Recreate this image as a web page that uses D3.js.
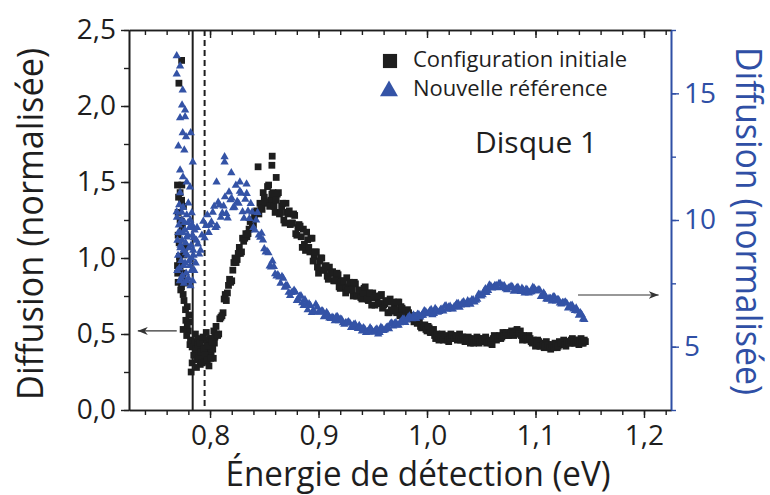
<!DOCTYPE html>
<html>
<head>
<meta charset="utf-8">
<script src="https://cdn.jsdelivr.net/npm/d3@7"></script>
<style>
  body { margin: 0; background: #fff; }
  svg { display: block; font-family: "Open Sans", sans-serif; }
</style>
</head>
<body>
<svg id="chart" width="770" height="495"></svg>
<script>
// [énergie (eV), diffusion normalisée] - axe de gauche
const configInitiale = [
  [0.7738,2.30],[0.7713,2.15],[0.7700,1.48],[0.7740,1.48],[0.7724,1.43],[0.7738,1.38],[0.7755,1.34],
  [0.7706,1.30],[0.7737,1.24],[0.7724,1.25],[0.7706,1.15],[0.7768,1.07],[0.7718,1.01],[0.7720,0.97],
  [0.7702,0.90],[0.7724,0.94],[0.7752,0.90],[0.7706,0.84],[0.7774,0.835],[0.7737,0.81],[0.7752,0.76],
  [0.7710,1.40],[0.7745,1.20],[0.7715,1.10],[0.7760,1.02],[0.7700,0.95],[0.7745,0.87],[0.7730,0.79],
  [0.7760,0.72],[0.7790,0.68],[0.7810,0.58],[0.7800,0.52],[0.7815,0.43],
  [0.7774,0.66],[0.7805,0.625],[0.7777,0.59],[0.7790,0.56],[0.7752,0.53],[0.7785,0.49],[0.7820,0.46],
  [0.7835,0.415],[0.7850,0.36],[0.7835,0.31],[0.7826,0.25],
  [0.7860,0.45],[0.7870,0.40],[0.7880,0.33],[0.7890,0.43],[0.7900,0.37],[0.7910,0.30],[0.7920,0.41],
  [0.7930,0.35],[0.7940,0.46],[0.7950,0.32],[0.7960,0.39],[0.7970,0.44],[0.7980,0.36],[0.7990,0.29],
  [0.8000,0.42],[0.8010,0.38],[0.8020,0.47],[0.8030,0.34],[0.8040,0.44],
  [0.7865,0.50],[0.7875,0.28],[0.7885,0.47],[0.7895,0.34],[0.7905,0.44],[0.7915,0.38],[0.7925,0.31],
  [0.7935,0.48],[0.7945,0.40],[0.7955,0.36],[0.7965,0.51],[0.7975,0.33],[0.7985,0.42],[0.7995,0.47],
  [0.8005,0.34],[0.8015,0.45],[0.8025,0.40],[0.8035,0.52],[0.8045,0.48],[0.8055,0.55],
  [0.806,0.50],[0.808,0.50],[0.810,0.61],[0.812,0.64],[0.814,0.76],[0.816,0.77],[0.818,0.86],
  [0.820,0.85],[0.822,0.97],[0.824,0.97],[0.826,1.03],[0.828,1.03],[0.830,1.13],[0.832,1.13],
  [0.834,1.14],[0.836,1.19],[0.838,1.25],[0.840,1.22],[0.842,1.30],[0.844,1.30],[0.846,1.36],
  [0.848,1.32],[0.850,1.40],[0.852,1.36],[0.854,1.48],[0.856,1.38],[0.858,1.43],[0.860,1.30],
  [0.862,1.42],[0.864,1.29],[0.866,1.34],[0.868,1.25],[0.870,1.36],[0.872,1.29],[0.874,1.22],
  [0.876,1.23],[0.878,1.28],[0.880,1.15],[0.882,1.22],[0.884,1.14],[0.886,1.19],[0.888,1.05],
  [0.890,1.12],[0.892,1.04],[0.894,1.13],[0.896,1.01],[0.898,1.04],[0.900,0.90],
  [0.8573,1.67],[0.8570,1.61],[0.8443,1.60],[0.8610,1.53],
  [0.902,1.00],[0.904,0.92],[0.906,0.94],[0.908,0.88],[0.910,0.94],[0.912,0.90],[0.914,0.85],
  [0.916,0.86],[0.918,0.89],[0.920,0.80],[0.922,0.85],[0.924,0.81],[0.926,0.87],[0.928,0.80],
  [0.930,0.83],[0.932,0.75],[0.934,0.83],[0.936,0.75],[0.938,0.78],[0.940,0.73],[0.942,0.80],
  [0.944,0.77],[0.946,0.72],[0.948,0.74],[0.950,0.77],[0.952,0.69],[0.954,0.74],[0.956,0.70],
  [0.958,0.76],[0.960,0.69],[0.962,0.72],[0.964,0.64],[0.966,0.73],[0.968,0.65],[0.970,0.68],
  [0.972,0.64],[0.974,0.71],[0.976,0.68],[0.978,0.63],[0.980,0.65],
  [0.982,0.66],[0.984,0.62],[0.986,0.62],[0.988,0.58],[0.990,0.61],[0.992,0.58],[0.994,0.55],
  [0.996,0.55],[0.998,0.56],[1.000,0.52],[1.002,0.54],[1.004,0.51],[1.006,0.53],[1.008,0.47],
  [1.010,0.49],[1.012,0.47],[1.014,0.50],[1.016,0.47],[1.018,0.48],[1.020,0.45],
  [1.022,0.50],[1.024,0.47],[1.026,0.48],[1.028,0.46],[1.030,0.50],[1.032,0.48],[1.034,0.46],
  [1.036,0.47],[1.038,0.48],[1.040,0.44],[1.042,0.47],[1.044,0.45],[1.046,0.48],[1.048,0.44],
  [1.050,0.47],[1.052,0.45],[1.054,0.48],[1.056,0.45],[1.058,0.46],[1.060,0.43],
  [1.062,0.49],[1.064,0.46],[1.066,0.48],[1.068,0.47],[1.070,0.51],[1.072,0.50],[1.074,0.49],
  [1.076,0.50],[1.078,0.52],[1.080,0.49],[1.082,0.52],[1.084,0.50],[1.086,0.52],[1.088,0.46],
  [1.090,0.48],[1.092,0.46],[1.094,0.49],[1.096,0.45],[1.098,0.46],[1.100,0.42],
  [1.102,0.46],[1.104,0.42],[1.106,0.44],[1.108,0.41],[1.110,0.45],[1.112,0.43],[1.114,0.40],
  [1.116,0.42],[1.118,0.44],[1.120,0.41],[1.122,0.45],[1.124,0.43],[1.126,0.46],[1.128,0.42],
  [1.130,0.45],[1.132,0.44],[1.134,0.47],[1.136,0.44],[1.138,0.46],[1.140,0.43],[1.142,0.47],
  [1.144,0.44],[1.146,0.45],
  [0.807,0.49],[0.809,0.60],[0.811,0.62],[0.813,0.73],[0.815,0.72],[0.817,0.82],[0.819,0.84],
  [0.821,0.92],[0.823,1.00],[0.825,0.99],[0.827,1.07],[0.829,1.04],[0.831,1.11],[0.833,1.16],
  [0.835,1.16],[0.837,1.24],[0.839,1.21],[0.841,1.27],[0.843,1.31],[0.845,1.29],[0.847,1.33],
  [0.849,1.43],[0.851,1.37],[0.853,1.47],[0.855,1.34],[0.857,1.42],[0.859,1.34],[0.861,1.38],
  [0.863,1.43],[0.865,1.30],[0.867,1.36],[0.869,1.23],[0.871,1.30],[0.873,1.31],[0.875,1.23],
  [0.877,1.29],[0.879,1.16],[0.881,1.20],[0.883,1.21],[0.885,1.07],[0.887,1.09],[0.889,1.17],
  [0.891,1.07],[0.893,1.13],[0.895,0.98],[0.897,1.04],[0.899,0.94],
  [0.901,0.98],[0.903,1.00],[0.905,0.92],[0.907,0.95],[0.909,0.86],[0.911,0.90],[0.913,0.91],
  [0.915,0.85],[0.917,0.90],[0.919,0.81],[0.921,0.84],[0.923,0.85],[0.925,0.77],[0.927,0.79],
  [0.929,0.84],[0.931,0.79],[0.933,0.84],[0.935,0.75],[0.937,0.79],[0.939,0.74],[0.941,0.77],
  [0.943,0.81],[0.945,0.73],[0.947,0.77],[0.949,0.69],[0.951,0.74],[0.953,0.75],[0.955,0.70],
  [0.957,0.75],[0.959,0.67],[0.961,0.70],[0.963,0.71],[0.965,0.64],[0.967,0.66],[0.969,0.71],
  [0.971,0.66],[0.973,0.71],[0.975,0.62],[0.977,0.67],[0.979,0.62],[0.981,0.65],
  [0.983,0.64],[0.985,0.60],[0.987,0.62],[0.989,0.59],[0.991,0.57],[0.993,0.58],[0.995,0.54],
  [0.997,0.55],[0.999,0.53],[1.001,0.55],[1.003,0.51],[1.005,0.52],[1.007,0.49],[1.009,0.50],
  [1.011,0.46],[1.013,0.48],[1.015,0.46],[1.017,0.49],[1.019,0.46],[1.021,0.47],[1.023,0.49],
  [1.025,0.47],[1.027,0.49],[1.029,0.47],[1.031,0.46],[1.033,0.48],[1.035,0.45],[1.037,0.46],
  [1.039,0.47],[1.041,0.46],[1.043,0.44],[1.045,0.46],[1.047,0.47],[1.049,0.45],[1.051,0.46],
  [1.053,0.47],[1.055,0.44],[1.057,0.45],[1.059,0.44],[1.061,0.47],[1.063,0.48],[1.065,0.47],
  [1.067,0.49],[1.069,0.48],[1.071,0.49],[1.073,0.51],[1.075,0.49],[1.077,0.51],[1.079,0.50],
  [1.081,0.51],[1.083,0.53],[1.085,0.50],[1.087,0.49],[1.089,0.49],[1.091,0.47],[1.093,0.47],
  [1.095,0.47],[1.097,0.44],[1.099,0.45],[1.101,0.44],[1.103,0.45],[1.105,0.42],[1.107,0.43],
  [1.109,0.42],[1.111,0.43],[1.113,0.41],[1.115,0.43],[1.117,0.41],[1.119,0.43],[1.121,0.42],
  [1.123,0.44],[1.125,0.44],[1.127,0.43],[1.129,0.45],[1.131,0.44],[1.133,0.46],[1.135,0.45],
  [1.137,0.44],[1.139,0.46],[1.141,0.45],[1.143,0.44],[1.145,0.46]
];

// [énergie (eV), diffusion normalisée] - axe de droite
const nouvelleReference = [
  [0.7693,16.48],[0.7724,16.08],[0.7693,15.76],[0.7748,15.13],[0.7742,14.54],[0.7770,14.34],
  [0.7724,14.03],[0.7770,14.07],[0.7748,13.44],[0.7779,13.28],[0.7822,13.44],[0.7708,12.92],
  [0.7763,12.76],[0.7841,12.29],[0.7724,11.97],[0.7751,11.70],[0.7785,11.50],[0.7816,11.30],
  [0.7724,11.07],[0.7800,10.67],[0.7693,10.32],[0.7831,10.28],[0.7739,10.00],[0.7843,9.72],
  [0.7724,9.49],[0.7785,9.33],
  [0.7695,10.1],[0.7700,9.2],[0.7705,8.6],[0.7712,9.8],[0.7718,8.1],[0.7722,7.6],[0.7728,9.0],
  [0.7735,8.4],[0.7740,10.3],[0.7745,7.8],[0.7750,9.5],[0.7755,8.8],[0.7760,7.5],[0.7765,9.9],
  [0.7770,8.3],[0.7775,9.1],[0.7780,7.9],[0.7785,10.2],[0.7790,8.6],[0.7795,9.4],[0.7800,7.7],
  [0.7805,8.9],[0.7810,9.7],[0.7815,8.2],[0.7820,7.4],[0.7825,9.0],[0.7830,8.5],[0.7835,9.8],
  [0.7840,7.6],[0.7845,8.8],[0.7850,9.3],[0.7855,8.0],
  [0.7698,8.0],[0.7708,9.5],[0.7716,10.6],[0.7726,8.9],[0.7733,7.7],[0.7743,9.2],[0.7752,10.5],
  [0.7758,8.2],[0.7768,9.6],[0.7778,8.7],[0.7788,7.6],[0.7798,9.9],[0.7808,8.4],[0.7818,10.0],
  [0.7828,8.0],[0.7838,9.4],[0.7848,8.6],[0.7858,9.6],[0.7868,8.3],[0.7880,9.7],
  [0.7875,9.2],[0.7900,8.65],[0.7925,9.4],[0.7950,9.3],[0.7975,10.2],[0.8000,9.8],[0.8025,10.3],
  [0.8050,9.7],[0.8075,10.7],[0.8100,10.1],[0.8125,10.55],[0.8150,10.25],[0.8175,11.1],
  [0.8200,10.85],[0.8225,10.5],[0.8250,10.73],[0.8275,11.13],[0.8300,10.32],[0.8325,10.82],
  [0.8350,10.35],[0.8375,10.65],[0.8400,9.7],[0.8425,10.0],[0.8450,9.4],
  [0.7888,9.05],[0.7913,8.8],[0.7938,9.95],[0.7963,9.78],[0.7988,9.5],[0.8013,9.92],[0.8038,10.54],
  [0.8063,9.77],[0.8088,10.59],[0.8113,10.27],[0.8138,10.91],[0.8163,10.08],[0.8188,10.8],
  [0.8213,10.48],[0.8238,11.37],[0.8263,10.66],[0.8288,11.05],[0.8313,10.07],[0.8338,11.04],
  [0.8363,10.06],[0.8388,10.31],[0.8413,9.6],[0.8438,10.29],
  [0.8134,12.49],[0.8134,12.29],[0.8196,11.86],[0.8060,11.50],[0.8275,11.50],[0.8337,11.42],
  [0.8475,9.47],[0.8500,8.86],[0.8525,8.76],[0.8550,8.18],[0.8575,8.38],[0.8600,7.87],
  [0.8625,7.84],[0.8650,7.50],[0.8675,7.70],[0.8700,7.42],[0.8725,7.14],[0.8750,7.13],
  [0.8775,7.22],[0.8800,6.82],[0.8825,6.99],[0.8850,6.73],[0.8875,6.85],[0.8900,6.45],
  [0.8925,6.62],[0.8950,6.41],[0.8975,6.67],[0.9000,6.36],
  [0.9025,6.41],[0.9050,6.18],[0.9075,6.35],[0.9100,6.13],[0.9125,6.16],[0.9150,6.02],
  [0.9175,6.18],[0.9200,6.09],[0.9225,5.94],[0.9250,5.94],[0.9275,5.98],[0.9300,5.75],
  [0.9325,5.87],[0.9350,5.76],[0.9375,5.83],[0.9400,5.61],[0.9425,5.70],[0.9450,5.60],
  [0.9475,5.74],[0.9500,5.58],[0.9525,5.66],[0.9550,5.50],[0.9575,5.76],[0.9600,5.63],
  [0.9625,5.75],[0.9650,5.70],[0.9675,5.93],[0.9700,5.91],[0.9725,5.85],[0.9750,5.94],
  [0.9775,6.08],[0.9800,5.95],[0.9825,6.15],[0.9850,6.11],[0.9875,6.25],[0.9900,6.11],
  [0.9925,6.27],[0.9950,6.23],[0.9975,6.42],[1.0000,6.30],[1.0025,6.41],[1.0050,6.26],
  [1.0075,6.50],[1.0100,6.35],[1.0125,6.46],[1.0150,6.40],[1.0175,6.61],[1.0200,6.56],
  [1.0225,6.49],[1.0250,6.57],[1.0275,6.70],[1.0300,6.55],[1.0325,6.73],[1.0350,6.66],
  [1.0375,6.81],[1.0400,6.67],[1.0425,6.85],[1.0450,6.83],[1.0475,7.07],[1.0500,7.00],
  [1.0525,7.18],[1.0550,7.13],[1.0575,7.43],[1.0600,7.31],[1.0625,7.41],[1.0650,7.32],
  [1.0675,7.49],[1.0700,7.40],[1.0725,7.28],[1.0750,7.31],[1.0775,7.38],[1.0800,7.18],
  [1.0825,7.31],[1.0850,7.21],[1.0875,7.30],[1.0900,7.11],[1.0925,7.23],[1.0950,7.15],
  [1.0975,7.34],[1.1000,7.22],[1.1025,7.24],[1.1050,6.98],[1.1075,7.12],[1.1100,6.88],
  [1.1125,6.91],[1.1150,6.80],[1.1175,6.96],[1.1200,6.86],[1.1225,6.72],[1.1250,6.74],
  [1.1275,6.76],[1.1300,6.52],[1.1325,6.62],[1.1350,6.48],[1.1375,6.52],[1.1400,6.24],
  [1.1425,6.27],[1.1450,6.07],
  [0.8463,9.32],[0.8488,9.21],[0.8513,8.73],[0.8538,8.70],[0.8563,8.14],[0.8588,8.16],
  [0.8613,7.79],[0.8638,7.75],[0.8663,7.77],[0.8688,7.34],[0.8713,7.40],[0.8738,7.02],
  [0.8763,7.15],[0.8788,7.15],[0.8813,6.89],[0.8838,7.01],[0.8863,6.62],[0.8888,6.68],
  [0.8913,6.69],[0.8938,6.34],[0.8963,6.37],[0.8988,6.56],
  [0.9013,6.35],[0.9038,6.41],[0.9063,6.19],[0.9088,6.25],[0.9113,6.11],[0.9138,6.13],
  [0.9163,6.18],[0.9188,6.02],[0.9213,6.07],[0.9238,5.88],[0.9263,5.94],[0.9288,5.93],
  [0.9313,5.80],[0.9338,5.89],[0.9363,5.71],[0.9388,5.74],[0.9413,5.74],[0.9438,5.56],
  [0.9463,5.58],[0.9488,5.68],[0.9513,5.58],[0.9538,5.70],[0.9563,5.56],[0.9588,5.71],
  [0.9613,5.66],[0.9638,5.77],[0.9663,5.90],[0.9688,5.81],[0.9713,5.94],[0.9738,5.84],
  [0.9763,6.00],[0.9788,6.09],[0.9813,6.05],[0.9838,6.21],[0.9863,6.10],[0.9888,6.20],
  [0.9913,6.28],[0.9938,6.17],[0.9963,6.24],[0.9988,6.38],[1.0013,6.32],[1.0038,6.46],
  [1.0063,6.31],[1.0088,6.44],[1.0113,6.38],[1.0138,6.48],[1.0163,6.59],[1.0188,6.47],
  [1.0213,6.59],[1.0238,6.48],[1.0263,6.62],[1.0288,6.70],[1.0313,6.64],[1.0338,6.77],
  [1.0363,6.65],[1.0388,6.76],[1.0413,6.85],[1.0438,6.76],[1.0463,6.87],[1.0488,7.06],
  [1.0513,7.05],[1.0538,7.28],[1.0563,7.21],[1.0588,7.39],[1.0613,7.33],[1.0638,7.41],
  [1.0663,7.49],[1.0688,7.33],[1.0713,7.40],[1.0738,7.24],[1.0763,7.33],[1.0788,7.35],
  [1.0813,7.24],[1.0838,7.34],[1.0863,7.17],[1.0888,7.23],[1.0913,7.26],[1.0938,7.11],
  [1.0963,7.16],[1.0988,7.30],[1.1013,7.19],[1.1038,7.23],[1.1063,6.98],[1.1088,7.02],
  [1.1113,6.87],[1.1138,6.90],[1.1163,6.97],[1.1188,6.80],[1.1213,6.85],[1.1238,6.68],
  [1.1263,6.74],[1.1288,6.71],[1.1313,6.57],[1.1338,6.63],[1.1363,6.42],[1.1388,6.40],
  [1.1413,6.34],[1.1438,6.09]
];

const ticksEnergie = [0.8, 0.9, 1.0, 1.1, 1.2];
const ticksGauche = [0, 0.5, 1.0, 1.5, 2.0, 2.5];
const ticksDroite = [5, 10, 15];
const legende = ["Configuration initiale", "Nouvelle référence"];
const lignesVerticales = [
  { energie: 0.784, dash: null },
  { energie: 0.795, dash: "6,4" },
];

const svg = d3.select("#chart");
const width = 770;
const height = 495;
const margin = { top: 30, right: 99, bottom: 85, left: 129 };
const innerWidth = width - margin.left - margin.right;
const innerHeight = height - margin.top - margin.bottom;
const noir = "#1e1e1e";
const bleu = "#3453a6";
const bleuAxe = "#2f4fa5";

const x = d3.scaleLinear().domain([0.7253, 1.2249]).range([0, innerWidth]);
const yG = d3.scaleLinear().domain([0, 2.5]).range([innerHeight, 0]);
const yD = d3.scaleLinear().domain([2.5, 17.5]).range([innerHeight, 0]);

const chart = svg
  .append("g")
  .attr("transform", `translate(${margin.left},${margin.top})`);

const virgule = (f) => (d) => d3.format(f)(d).replace(".", ",");

function styliser(g, color, labels) {
  g.attr("font-family", "Open Sans, sans-serif").attr("font-size", 28);
  g.select(".domain").attr("stroke", color).attr("stroke-width", 1.6);
  g.selectAll(".tick line").attr("stroke", color).attr("stroke-width", 1.4);
  if (labels) {
    g.selectAll(".tick text").attr("fill", color);
  } else {
    g.selectAll(".tick text").remove();
  }
}

// graduations mineures
const mineursX = d3.range(0.74, 1.2201, 0.02);
const mineursG = d3.range(0, 2.501, 0.25);
const mineursD = d3.range(2.5, 17.51, 2.5);

chart.append("g")
  .attr("transform", `translate(0,${innerHeight})`)
  .call(d3.axisBottom(x).tickValues(mineursX).tickSize(5).tickSizeOuter(0))
  .call((g) => styliser(g, noir, false));
chart.append("g")
  .call(d3.axisBottom(x).tickValues(mineursX).tickSize(5).tickSizeOuter(0))
  .call((g) => styliser(g, noir, false));
chart.append("g")
  .call(d3.axisLeft(yG).tickValues(mineursG).tickSize(5).tickSizeOuter(0))
  .call((g) => styliser(g, noir, false));
chart.append("g")
  .attr("transform", `translate(${innerWidth},0)`)
  .call(d3.axisRight(yD).tickValues(mineursD).tickSize(5).tickSizeOuter(0))
  .call((g) => styliser(g, bleuAxe, false));

// graduations majeures
chart.append("g")
  .attr("transform", `translate(0,${innerHeight})`)
  .call(d3.axisBottom(x).tickValues(ticksEnergie).tickSize(8).tickPadding(7).tickSizeOuter(0).tickFormat(virgule(".1f")))
  .call((g) => styliser(g, noir, true));
chart.append("g")
  .call(d3.axisBottom(x).tickValues(ticksEnergie).tickSize(8).tickSizeOuter(0))
  .call((g) => styliser(g, noir, false));
chart.append("g")
  .call(d3.axisLeft(yG).tickValues(ticksGauche).tickSize(8).tickPadding(5).tickSizeOuter(0).tickFormat(virgule(".1f")))
  .call((g) => styliser(g, noir, true));
chart.append("g")
  .attr("transform", `translate(${innerWidth},0)`)
  .call(d3.axisRight(yD).tickValues(ticksDroite).tickSize(8).tickPadding(5).tickSizeOuter(0).tickFormat(d3.format("d")))
  .call((g) => styliser(g, bleuAxe, true));

// lignes verticales
chart.append("g")
  .selectAll("line")
  .data(lignesVerticales)
  .join("line")
  .attr("x1", (d) => x(d.energie))
  .attr("x2", (d) => x(d.energie))
  .attr("y1", 0)
  .attr("y2", innerHeight)
  .attr("stroke", noir)
  .attr("stroke-width", 2)
  .attr("stroke-dasharray", (d) => d.dash);

// séries
const carre = d3.symbol().type(d3.symbolSquare).size(46);
const triangle = d3.symbol().type(d3.symbolTriangle).size(30);

chart.append("g")
  .selectAll("path")
  .data(configInitiale)
  .join("path")
  .attr("transform", (d) => `translate(${x(d[0])},${yG(d[1])})`)
  .attr("d", carre)
  .attr("fill", noir);

chart.append("g")
  .selectAll("path")
  .data(nouvelleReference)
  .join("path")
  .attr("transform", (d) => `translate(${x(d[0])},${yD(d[1])})`)
  .attr("d", triangle)
  .attr("fill", bleu);

// flèches vers les axes
svg.append("defs")
  .append("marker")
  .attr("id", "pointe")
  .attr("viewBox", "0 0 10 8")
  .attr("refX", 10)
  .attr("refY", 4)
  .attr("markerWidth", 10)
  .attr("markerHeight", 8)
  .attr("markerUnits", "userSpaceOnUse")
  .attr("orient", "auto")
  .append("path")
  .attr("d", "M0,0 L10,4 L0,8 L3,4 Z")
  .attr("fill", "#333");

chart.append("line")
  .attr("x1", x(0.7693)).attr("x2", x(0.7334))
  .attr("y1", yG(0.52)).attr("y2", yG(0.52))
  .attr("stroke", "#333").attr("stroke-width", 1.2)
  .attr("marker-end", "url(#pointe)");

chart.append("line")
  .attr("x1", x(1.1392)).attr("x2", x(1.2135))
  .attr("y1", yD(7.04)).attr("y2", yD(7.04))
  .attr("stroke", "#333").attr("stroke-width", 1.2)
  .attr("marker-end", "url(#pointe)");

// légende
const leg = svg.append("g");
leg.append("path")
  .attr("transform", "translate(390,61)")
  .attr("d", d3.symbol().type(d3.symbolSquare).size(200))
  .attr("fill", noir);
leg.append("path")
  .attr("transform", "translate(389,91)")
  .attr("d", d3.symbol().type(d3.symbolTriangle).size(140))
  .attr("fill", bleu);
leg.selectAll("text")
  .data(legende)
  .join("text")
  .attr("x", 413)
  .attr("y", (d, i) => 67 + i * 29)
  .attr("fill", noir)
  .attr("font-size", 22)
  .text((d) => d);

svg.append("text")
  .attr("x", 475)
  .attr("y", 153)
  .attr("fill", noir)
  .attr("font-size", 30)
  .text("Disque 1");

// titres des axes
svg.append("text")
  .attr("x", 418)
  .attr("y", 486)
  .attr("text-anchor", "middle")
  .attr("fill", noir)
  .attr("font-size", 34)
  .attr("textLength", 385)
  .attr("lengthAdjust", "spacingAndGlyphs")
  .text("Énergie de détection (eV)");

svg.append("text")
  .attr("transform", "translate(43,224) rotate(-90)")
  .attr("text-anchor", "middle")
  .attr("fill", noir)
  .attr("font-size", 37)
  .attr("textLength", 352)
  .attr("lengthAdjust", "spacingAndGlyphs")
  .text("Diffusion (normalisée)");

svg.append("text")
  .attr("transform", "translate(736,221) rotate(90)")
  .attr("text-anchor", "middle")
  .attr("fill", bleuAxe)
  .attr("font-size", 37)
  .attr("textLength", 348)
  .attr("lengthAdjust", "spacingAndGlyphs")
  .text("Diffusion (normalisée)");
</script>
</body>
</html>
